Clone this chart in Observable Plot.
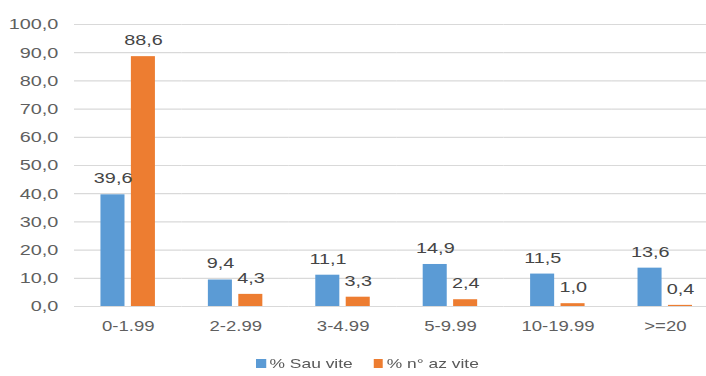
<!DOCTYPE html>
<html>
<head>
<meta charset="utf-8">
<script src="https://cdn.jsdelivr.net/npm/d3@7"></script>
<script src="https://cdn.jsdelivr.net/npm/@observablehq/plot@0.6"></script>
<style>
  html, body { margin: 0; padding: 0; background: #fff; }
  #clip { width: 706px; height: 376px; overflow: hidden; position: relative; background: #fff; }
  /* the chart is drawn in a narrower space and widened horizontally */
  #wrap { position: absolute; left: 0; top: 0; width: 562px; height: 376px;
          transform: scaleX(1.28); transform-origin: 0 0;
          font-family: "Liberation Sans", Arial, sans-serif; }
  #legend { position: absolute; top: 356px; left: 200px; display: flex; align-items: center;
            font-size: 13.6px; color: #595959; white-space: nowrap; }
  #legend .item { display: flex; align-items: center; margin-right: 16px; }
  #legend .sw { width: 7.6px; height: 9px; margin-right: 3px; }
</style>
</head>
<body>
<div id="clip"><div id="wrap"><div id="chart"></div><div id="legend"></div></div></div>
<script>
// Size classes (vite) and the two shares per class
const categories = ["0-1.99", "2-2.99", "3-4.99", "5-9.99", "10-19.99", ">=20"];
const series = ["% Sau vite", "% n° az vite"];
const sauVite = [39.6, 9.4, 11.1, 14.9, 11.5, 13.6];
const nAzVite = [88.6, 4.3, 3.3, 2.4, 1.0, 0.4];
const yTicks = [0, 10, 20, 30, 40, 50, 60, 70, 80, 90, 100];
const colors = ["#5B9BD5", "#ED7D31"];

const rows = [];
categories.forEach((c, i) => {
  rows.push({cat: c, series: series[0], value: sauVite[i]});
  rows.push({cat: c, series: series[1], value: nAzVite[i]});
});

const fmt = v => v.toFixed(1).replace(".", ",");

const chart = Plot.plot({
  width: 562,
  height: 345,
  marginLeft: 57.8,
  marginRight: 0.7,
  marginTop: 24,
  marginBottom: 39,
  style: {fontFamily: "'Liberation Sans', Arial, sans-serif", background: "#fff"},
  fx: {domain: categories, padding: 0, round: false, label: null},
  x: {domain: series, paddingInner: 0.21, paddingOuter: 0.87, round: false, axis: null},
  y: {domain: [0, 100], label: null},
  color: {domain: series, range: colors},
  marks: [
    Plot.gridY(yTicks, {stroke: "#d9d9d9", strokeOpacity: 1, strokeWidth: 1.2}),
    Plot.axisY(yTicks, {tickFormat: fmt, tickSize: 0, tickPadding: 12.7, fontSize: 15.5, fill: "#5f5f5f", label: null}),
    Plot.axisFx({anchor: "bottom", tickSize: 0, tickPadding: 14, fontSize: 14.5, fill: "#5f5f5f", label: null}),
    Plot.barY(rows, {fx: "cat", x: "series", y: "value", fill: "series"}),
    Plot.text(rows, {fx: "cat", x: "series", y: "value", text: d => fmt(d.value),
      lineAnchor: "bottom", dy: -11.5, fontSize: 15.5, fill: "#454545"})
  ]
});
document.getElementById("chart").appendChild(chart);

// Legend below the chart
const legend = document.getElementById("legend");
series.forEach((s, i) => {
  const item = document.createElement("div");
  item.className = "item";
  const sw = document.createElement("span");
  sw.className = "sw";
  sw.style.background = colors[i];
  const label = document.createElement("span");
  label.textContent = s;
  item.appendChild(sw);
  item.appendChild(label);
  legend.appendChild(item);
});
</script>
</body>
</html>
